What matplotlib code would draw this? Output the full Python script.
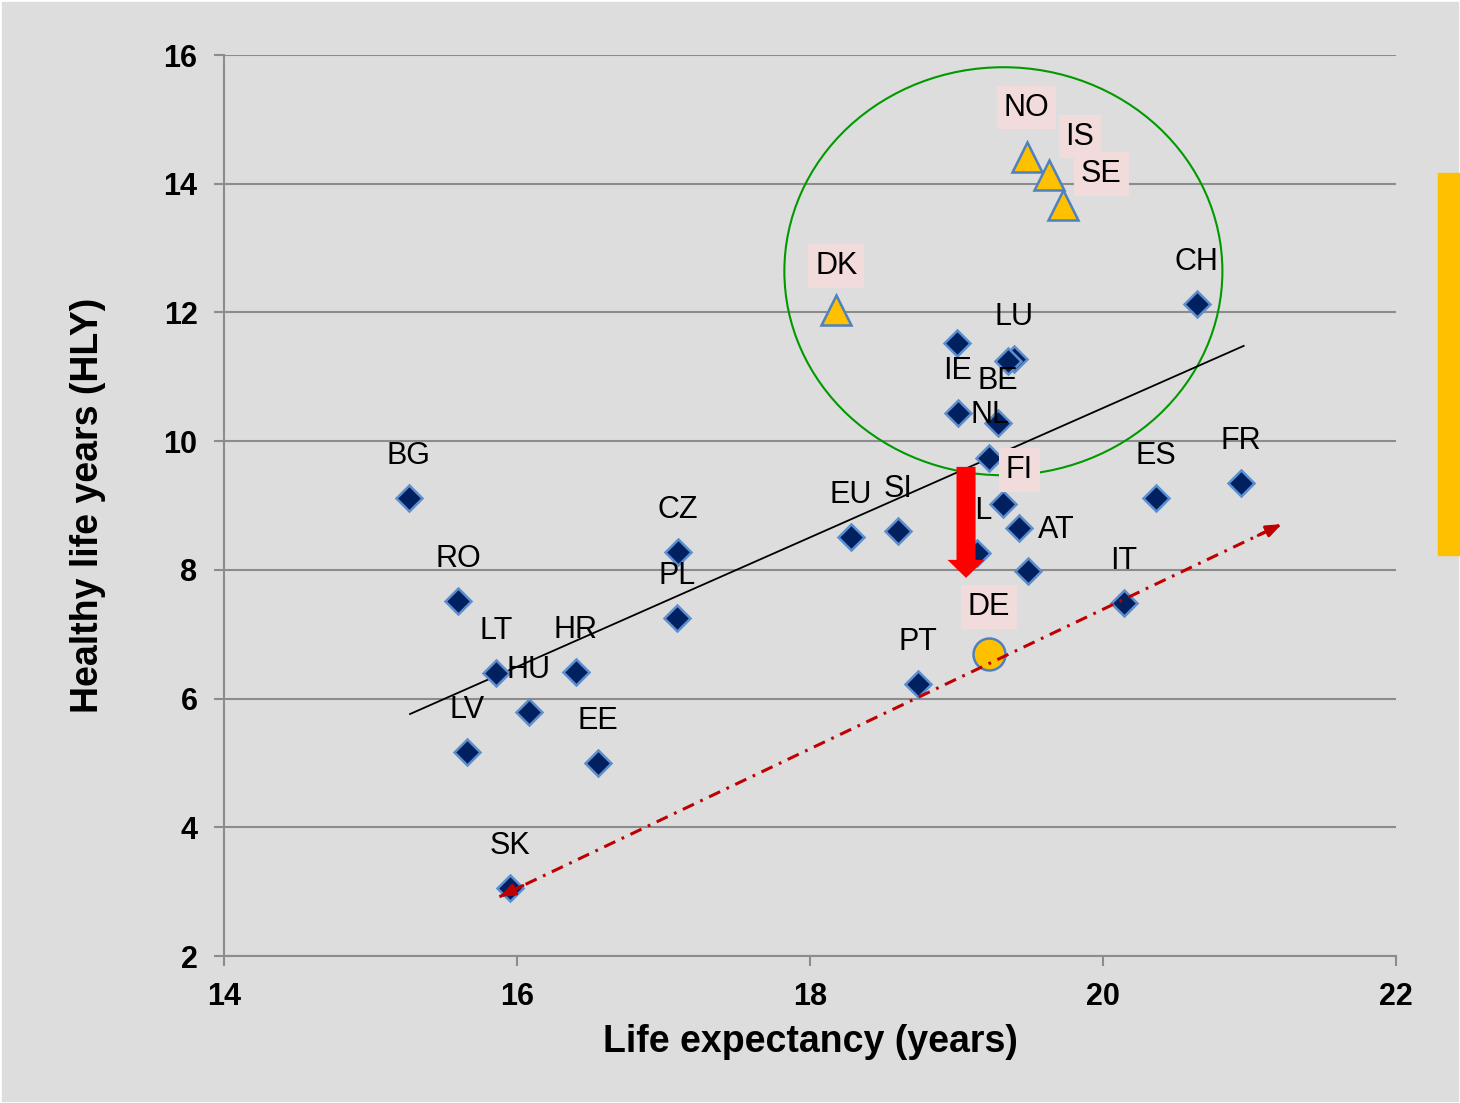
import numpy as np
import matplotlib.pyplot as plt
from matplotlib.patches import Ellipse, FancyArrow, Rectangle

plt.rcParams['font.family'] = ['Liberation Sans', 'DejaVu Sans']

# EU countries drawn as blue diamonds ('' = point without a name)
country = ['BG', 'RO', 'LT', 'HU', 'HR', 'LV', 'EE', 'SK', 'CZ', 'PL', 'EU', 'SI', 'PT',
           'IE', '', 'LU', '', 'BE', 'NL', 'FI', 'AT', 'EL', '', 'CH', 'ES', 'FR', 'IT']
life_exp = [15.26, 15.60, 15.86, 16.08, 16.40, 15.66, 16.55, 15.95, 17.10, 17.09, 18.28, 18.60, 18.74,
            19.01, 19.00, 19.39, 19.35, 19.28, 19.22, 19.32, 19.43, 19.14, 19.49, 20.64, 20.36, 20.94, 20.14]
hly = [9.12, 7.52, 6.40, 5.79, 6.41, 5.17, 5.00, 3.06, 8.28, 7.25, 8.51, 8.60, 6.23,
       10.44, 11.52, 11.28, 11.25, 10.28, 9.74, 9.02, 8.65, 8.26, 7.98, 12.13, 9.12, 9.35, 7.49]

# Nordic countries (triangles)
nordic = ['NO', 'IS', 'SE', 'DK']
nordic_le = [19.48, 19.63, 19.73, 18.18]
nordic_hly = [14.42, 14.14, 13.67, 12.04]

# Germany
de_name = 'DE'
de_le = 19.22
de_hly = 6.69

# trend line and the "gap" line
trend_x = [15.27, 20.96]
trend_y = [5.76, 11.48]
gap_x = [15.88, 21.22]
gap_y = [2.92, 8.71]

# label placement (pixel offsets from the marker)
default_off = (0, 42)
label_off = {'NL': (1, 43), 'FI': (16, 34), 'AT': (37, -2), 'EL': (-3, 42), 'NO': (0, 49),
             'IS': (31, 38), 'SE': (38, 31), 'DK': (0, 44), 'DE': (0, 47)}
highlight = {'NO', 'IS', 'SE', 'DK', 'DE', 'FI'}

fig = plt.figure(figsize=(14.6, 11.03), dpi=100, facecolor='white')
fig.patches.append(Rectangle((2 / 1460, 2 / 1103), 1 - 4 / 1460, 1 - 4 / 1103,
                             transform=fig.transFigure, color='#dddddd', zorder=-10))
fig.patches.append(Rectangle((1438 / 1460, 1 - 555 / 1103), 30 / 1460, 382 / 1103,
                             transform=fig.transFigure, color='#ffc000', zorder=-5))

ax = fig.add_axes([224 / 1460, 1 - 956 / 1103, 1172 / 1460, 901 / 1103])
ax.set_facecolor('#dddddd')
ax.set_xlim(14, 22)
ax.set_ylim(2, 16)
ax.set_xticks([14, 16, 18, 20, 22])
ax.set_yticks(np.arange(2, 17, 2))
ax.yaxis.grid(True, color='#8c8c8c', lw=1.5)
ax.set_axisbelow(True)
for s in ['top', 'right']:
    ax.spines[s].set_visible(False)
for s in ['left', 'bottom']:
    ax.spines[s].set_color('#8c8c8c')
    ax.spines[s].set_linewidth(1.5)
ax.tick_params(length=7, width=1.5, color='#8c8c8c', pad=12, labelsize=22)
for t in ax.get_xticklabels() + ax.get_yticklabels():
    t.set_fontweight('bold')

ax.set_xlabel('Life expectancy (years)', fontsize=27, fontweight='bold', va='center')
ax.xaxis.set_label_coords(0.5, (956 - 1042) / 901)
ax.set_ylabel('Healthy life years (HLY)', fontsize=27, fontweight='bold', va='center')
ax.yaxis.set_label_coords((88 - 224) / 1172, 0.5)

# circle around the top performers
ax.add_patch(Ellipse((19.32, 12.64), 2.99, 6.34, fill=False, ec='#009a00', lw=1.5, zorder=1))

ax.plot(trend_x, trend_y, color='black', lw=1.3, zorder=2)

ax.plot(life_exp, hly, 'D', ms=13, mfc='#002060', mec='#5b8fd0', mew=1.8, ls='none', zorder=3)
ax.plot(nordic_le, nordic_hly, '^', ms=22, mfc='#ffc000', mec='#4f81bd', mew=1.8, ls='none', zorder=3)
ax.plot([de_le], [de_hly], 'o', ms=23, mfc='#ffc000', mec='#4f81bd', mew=1.8, ls='none', zorder=3)

# dash-dot gap line with arrow heads
ax.plot(gap_x, gap_y, color='#c00000', lw=2.2, ls=(0, (4, 2.3, 0.9, 2.3)), zorder=4)
for i, j in [(0, 1), (1, 0)]:
    tip = (gap_x[j], gap_y[j])
    back = (gap_x[j] + 0.03 * (gap_x[i] - gap_x[j]), gap_y[j] + 0.03 * (gap_y[i] - gap_y[j]))
    ax.annotate('', xy=tip, xytext=back,
                arrowprops=dict(arrowstyle='-|>,head_length=0.9,head_width=0.35',
                                color='#c00000', lw=2.2, shrinkA=0, shrinkB=0), zorder=4)

names = country + nordic + [de_name]
xs = life_exp + nordic_le + [de_le]
ys = hly + nordic_hly + [de_hly]
for name, x, y in zip(names, xs, ys):
    if not name:
        continue
    off = label_off.get(name, default_off)
    bbox = None
    if name in highlight:
        bbox = dict(boxstyle='square,pad=0.22', fc='#f2dcdb', ec='none')
    ax.annotate(name, (x, y), xytext=off, textcoords='offset pixels', ha='center', va='center',
                fontsize=22, bbox=bbox, zorder=5)

# red drop arrow
ax.add_patch(FancyArrow(19.065, 9.60, 0, -1.725, width=0.13, head_width=0.2526, head_length=0.28,
                        length_includes_head=True, color='#ff0000', lw=0, zorder=6))

fig.savefig('out.png', dpi=100)
